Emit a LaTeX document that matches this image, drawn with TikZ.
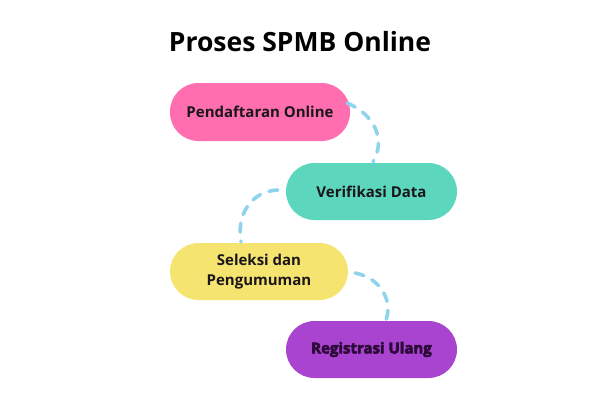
\documentclass[tikz,border=0pt]{standalone}
\usepackage{fontspec}
\setmainfont{Open Sans}
\newfontfamily\heavyfont[BoldFeatures={FakeBold=4}]{Open Sans}
\usepackage{xcolor}
\usetikzlibrary{calc}
\definecolor{stepink}{RGB}{255,111,176}
\definecolor{stepteal}{RGB}{92,214,189}
\definecolor{stepyellow}{RGB}{245,229,112}
\definecolor{steppurple}{RGB}{169,68,208}
\definecolor{linkblue}{RGB}{143,212,236}
\definecolor{inkdark}{RGB}{26,22,26}
\definecolor{inkpurple}{RGB}{45,10,58}

\begin{document}
\begin{tikzpicture}[
  x=1pt, y=-1pt,
  pill/.style={
    rounded corners=28.5pt,
    minimum width=178pt,
    minimum height=57pt,
    align=center,
    text=inkdark,
    font=\fontsize{15}{20}\selectfont\bfseries
  },
  link/.style={draw=linkblue, line width=3.6pt, line cap=round,
    dash pattern=on 9pt off 9pt},
  heading/.style={font=\fontsize{26.5}{30}\selectfont\bfseries, text=black}
]
\useasboundingbox (0,0) rectangle (600,400);

% Title
\node[heading] (title) at (300,42) {Proses SPMB Online};

% Steps
\node[pill, fill=stepink, minimum width=180pt, minimum height=58pt] (daftar) at (260,112) {Pendaftaran Online};
\node[pill, fill=stepteal, minimum width=171pt] (verif) at (371.5,191.5) {Verifikasi Data};
\node[pill, fill=stepyellow] (seleksi) at (259,271.5) {Seleksi dan\\Pengumuman};
\node[pill, fill=steppurple, minimum width=171pt, text=inkpurple,
  font=\fontsize{15}{20}\selectfont\heavyfont\bfseries] (ulang) at (371.5,349.5) {Registrasi Ulang};

% Dashed links
\draw[link] ($(daftar.east)+(-3,-9)$) .. controls (375,115) and (386,140) .. ($(verif.north)+(1.5,-1)$);
\draw[link] ($(verif.west)+(-8,-1.5)$) .. controls (252,191) and (236,214) .. ($(seleksi.north)+(-18,-1)$);
\draw[link] ($(seleksi.east)+(7,1.5)$) .. controls (380,278) and (393,300) .. ($(ulang.north)+(14.5,-1)$);

\end{tikzpicture}
\end{document}
